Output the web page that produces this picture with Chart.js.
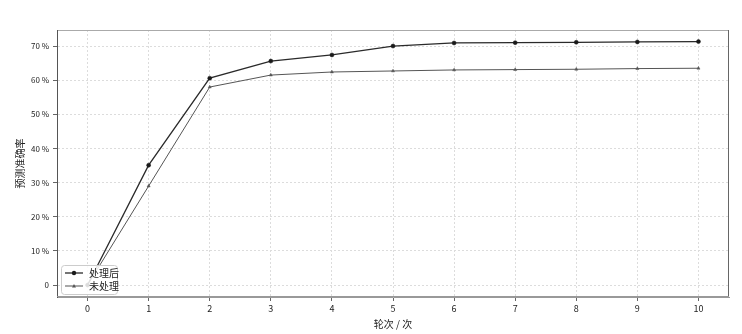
<!DOCTYPE html>
<html>
<head>
<meta charset="utf-8">
<script src="https://cdn.jsdelivr.net/npm/chart.js@4/dist/chart.umd.min.js"></script>
<style>
  html, body { margin: 0; padding: 0; background: #fff; }
  #wrap { width: 742px; height: 334px; }
</style>
</head>
<body>
<div id="wrap"><canvas id="c" width="742" height="334"></canvas></div>
<script>
const rounds = [0, 1, 2, 3, 4, 5, 6, 7, 8, 9, 10];
const treated = [0, 35.1, 60.6, 65.6, 67.4, 70.0, 70.9, 71.0, 71.1, 71.2, 71.3];
const untreated = [0, 29.0, 58.0, 61.5, 62.4, 62.7, 63.0, 63.1, 63.2, 63.4, 63.5];
const seriesNames = ["处理后", "未处理"];
const yTicks = [0, 10, 20, 30, 40, 50, 60, 70];

const FONT = "'Noto Sans CJK SC', 'DejaVu Sans', sans-serif";

// legend drawn inside the plot, bottom-left, like matplotlib's "best"
const innerLegend = {
    id: "innerLegend",
    afterDatasetsDraw(chart) {
        const ctx = chart.ctx;
        const area = chart.chartArea;
        const x0 = area.left + 4, y0 = area.bottom - 32;
        const w = 56, h = 29;
        ctx.save();
        ctx.fillStyle = "rgba(255,255,255,0.85)";
        ctx.strokeStyle = "#cccccc";
        ctx.lineWidth = 1;
        ctx.beginPath();
        ctx.roundRect(x0 + 0.5, y0 + 0.5, w, h, 3);
        ctx.fill();
        ctx.stroke();
        chart.data.datasets.forEach((ds, i) => {
            const yy = y0 + 8 + i * 13;
            ctx.strokeStyle = ds.borderColor;
            ctx.lineWidth = ds.borderWidth;
            ctx.beginPath();
            ctx.moveTo(x0 + 4, yy);
            ctx.lineTo(x0 + 22, yy);
            ctx.stroke();
            ctx.fillStyle = ds.pointBackgroundColor;
            if (ds.pointStyle === "triangle") {
                ctx.beginPath();
                ctx.moveTo(x0 + 13, yy - 2);
                ctx.lineTo(x0 + 15, yy + 1.5);
                ctx.lineTo(x0 + 11, yy + 1.5);
                ctx.closePath();
                ctx.fill();
            } else {
                ctx.beginPath();
                ctx.arc(x0 + 13, yy, 2.2, 0, Math.PI * 2);
                ctx.fill();
            }
            ctx.fillStyle = "#222";
            ctx.font = "10px " + FONT;
            ctx.textBaseline = "middle";
            ctx.fillText(ds.label, x0 + 28, yy);
        });
        ctx.restore();
    }
};

new Chart(document.getElementById("c"), {
    type: "line",
    data: {
        datasets: [
            {
                label: seriesNames[0],
                data: rounds.map((r, i) => ({ x: r, y: treated[i] })),
                borderColor: "#2a2a2a",
                backgroundColor: "#2a2a2a",
                pointBackgroundColor: "#1a1a1a",
                pointBorderColor: "#1a1a1a",
                borderWidth: 1.3,
                pointStyle: "circle",
                pointRadius: 2,
                pointBorderWidth: 0.5,
                tension: 0
            },
            {
                label: seriesNames[1],
                data: rounds.map((r, i) => ({ x: r, y: untreated[i] })),
                borderColor: "#555",
                backgroundColor: "#555",
                pointBackgroundColor: "#555",
                pointBorderColor: "#555",
                borderWidth: 1,
                pointStyle: "triangle",
                pointRadius: 1.8,
                pointBorderWidth: 0.5,
                tension: 0
            }
        ]
    },
    options: {
        responsive: false,
        animation: false,
        layout: { padding: { left: 10, right: 13, top: 30, bottom: 0 } },
        plugins: {
            legend: { display: false },
            tooltip: { enabled: false }
        },
        scales: {
            x: {
                type: "linear",
                min: -0.5,
                max: 10.5,
                afterBuildTicks: s => { s.ticks = rounds.map(v => ({ value: v })); },
                afterFit: s => { s.height = 37; },
                grid: { color: "#dcdcdc", tickLength: 4, tickColor: "#666" },
                border: { color: "#999", width: 1, dash: [2, 2] },
                ticks: { color: "#222", font: { family: FONT, size: 9 }, padding: 2 },
                title: { display: true, text: "轮次 / 次", color: "#222", font: { family: FONT, size: 10 }, padding: { top: 0 } }
            },
            y: {
                min: -3.5,
                max: 74.7,
                afterBuildTicks: s => { s.ticks = yTicks.map(v => ({ value: v })); },
                afterFit: s => { s.width = 47; },
                grid: { color: "#dcdcdc", tickLength: 4, tickColor: "#666" },
                border: { color: "#555", width: 1, dash: [2, 2] },
                ticks: {
                    color: "#222",
                    font: { family: FONT, size: 8 },
                    padding: 4,
                    callback: v => v === 0 ? "0" : v + " %"
                },
                title: { display: true, text: "预测准确率", color: "#222", font: { family: FONT, size: 10 }, padding: { bottom: 2 } }
            }
        }
    },
    plugins: [innerLegend, {
        id: "frame",
        afterDraw(chart) {
            const a = chart.chartArea, ctx = chart.ctx;
            ctx.save();
            ctx.lineWidth = 1;
            ctx.strokeStyle = "#aaa";
            ctx.beginPath();
            ctx.moveTo(a.left, a.top + 0.5);
            ctx.lineTo(a.right, a.top + 0.5);
            ctx.stroke();
            ctx.strokeStyle = "#666";
            ctx.beginPath();
            ctx.moveTo(a.right - 0.5, a.top);
            ctx.lineTo(a.right - 0.5, a.bottom);
            ctx.stroke();
            ctx.strokeStyle = "#555";
            ctx.beginPath();
            ctx.moveTo(a.left + 0.5, a.top);
            ctx.lineTo(a.left + 0.5, a.bottom);
            ctx.stroke();
            ctx.strokeStyle = "#999";
            ctx.beginPath();
            ctx.moveTo(a.left, a.bottom - 0.5);
            ctx.lineTo(a.right, a.bottom - 0.5);
            ctx.stroke();
            ctx.restore();
        }
    }]
});
</script>
</body>
</html>
